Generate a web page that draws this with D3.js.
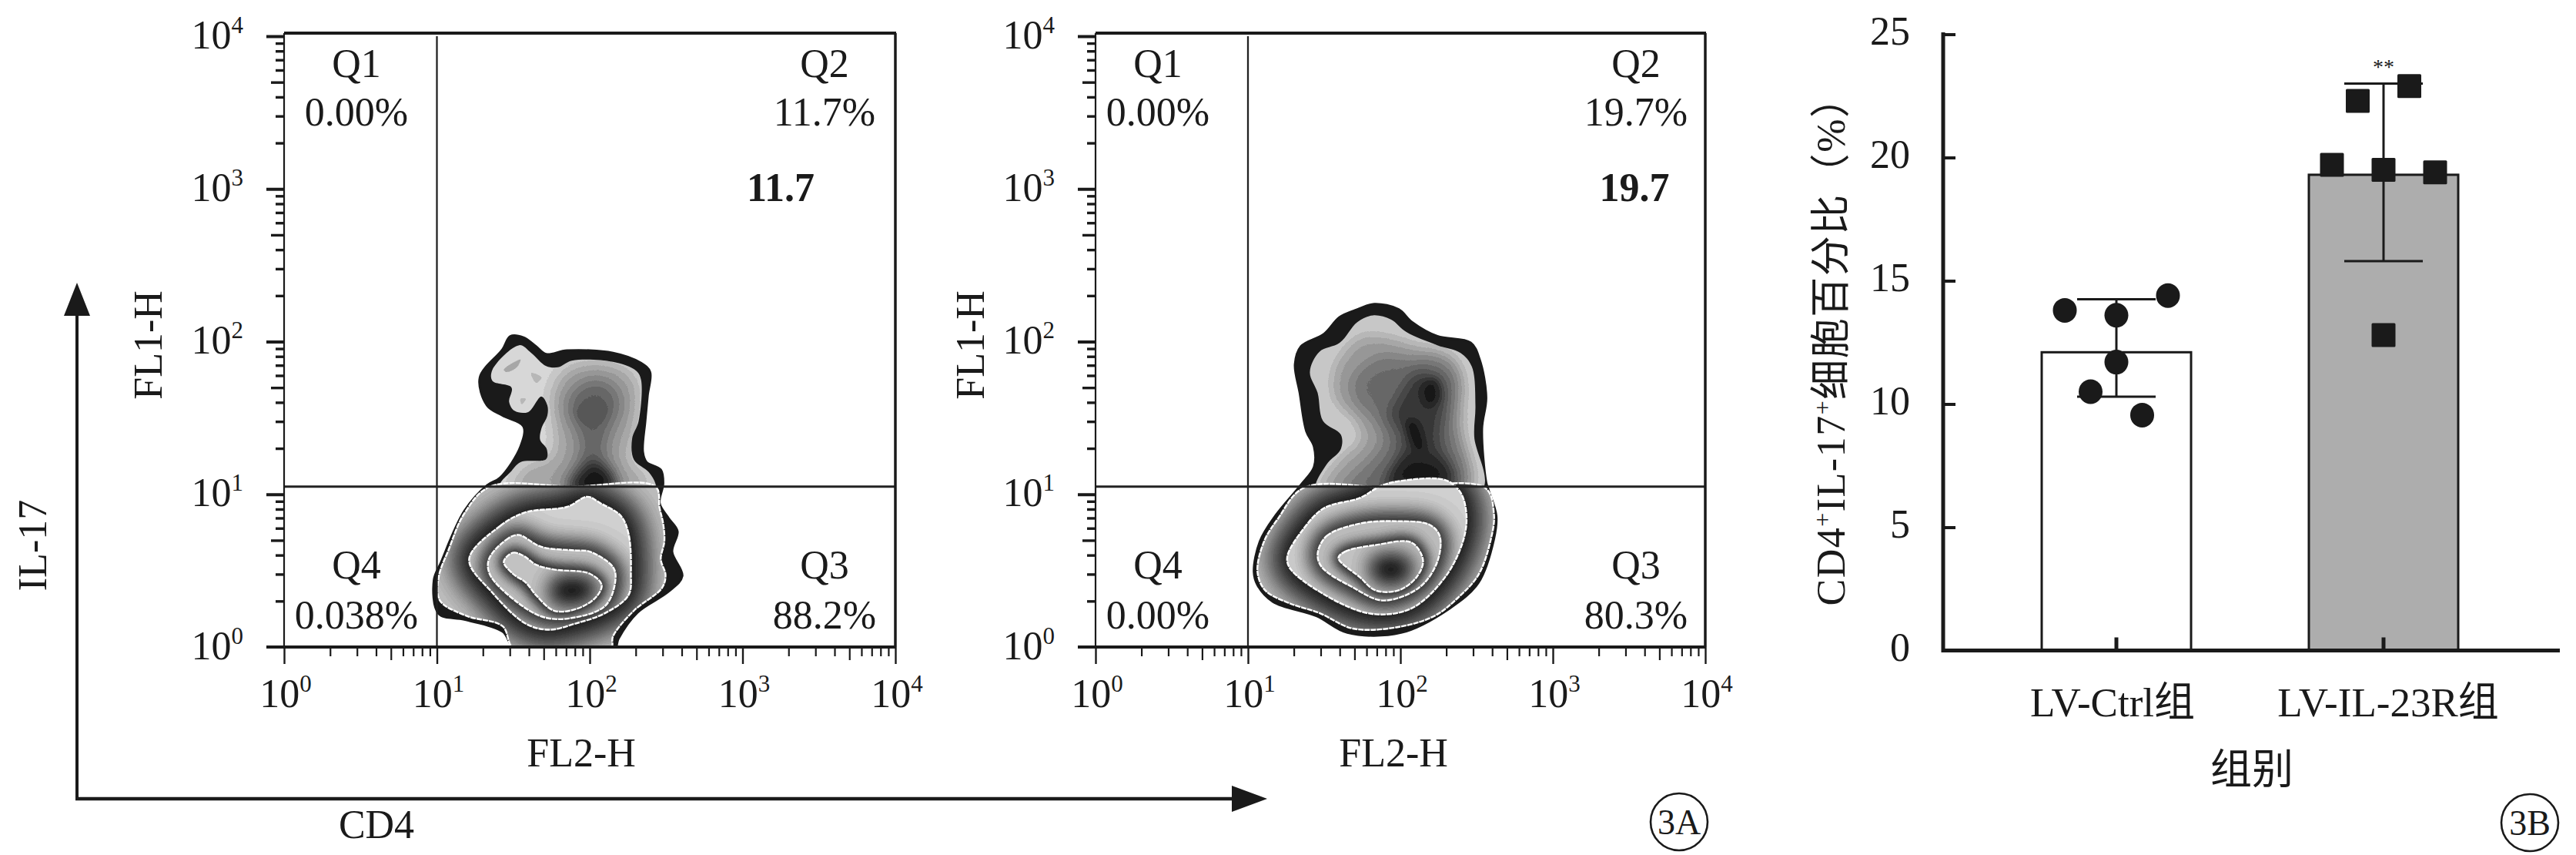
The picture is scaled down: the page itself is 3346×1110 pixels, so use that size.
<!DOCTYPE html>
<html><head><meta charset="utf-8">
<script src="https://cdn.jsdelivr.net/npm/d3@7"></script>
<style>
html,body{margin:0;padding:0;background:#fff}
text{font-family:"Liberation Serif","Noto Sans CJK SC",serif;fill:#1a1a1a;font-size:52px}
</style></head><body>
<svg id="c" width="3346" height="1110"></svg>
<script>
// ---- Flow cytometry contour outlines, in FCS channels (256 channels per log decade) ----
const aOuter=[[379,521],[401,519],[422,504],[439,491],[474,497],[551,493],[598,476],[613,461],[609,422],[605,379],[601,327],[607,310],[631,297],[635,274],[629,241],[644,216],[659,194],[650,160],[667,119],[644,93],[592,58],[560,14],[553,-4],[388,-4],[366,26],[302,46],[259,56],[251,112],[263,142],[302,228],[340,271],[362,284],[396,336],[401,370],[366,388],[340,405],[328,452],[366,499]];
const aUpper=[[394,506],[414,493],[439,471],[459,469],[482,480],[551,478],[590,463],[598,448],[594,379],[583,349],[586,314],[611,293],[622,274],[622,263],[362,263],[362,274],[379,293],[396,310],[439,315],[440,332],[429,347],[431,366],[441,388],[441,405],[431,420],[409,394],[386,396],[377,411],[381,435],[349,446],[349,465]];
const aLower=[[345,269],[482,269],[622,269],[629,233],[635,207],[637,177],[631,147],[639,121],[633,99],[586,61],[551,18],[547,-4],[386,-4],[366,35],[306,52],[261,78],[259,117],[276,164],[302,224]];
const aC1=[[310,147],[362,203],[405,226],[474,235],[508,252],[530,241],[564,220],[577,190],[581,125],[577,87],[538,57],[487,39],[444,29],[405,39],[349,91]];
const aC2=[[343,147],[371,179],[392,188],[431,168],[487,162],[512,160],[551,134],[555,112],[538,69],[478,48],[435,50],[392,74],[345,121]];
const aC3=[[368,143],[383,158],[401,153],[422,138],[452,130],[512,123],[532,104],[521,82],[487,63],[452,61],[422,87],[405,108],[383,123]];
const aPeak=[[452,108],[487,115],[517,106],[517,87],[482,74],[452,80]];
const aUp1=[[461,456],[487,474],[555,474],[590,448],[586,353],[577,314],[607,284],[607,263],[383,263],[405,302],[448,319],[454,353],[448,422]];
const aUp2=[[478,422],[512,448],[551,439],[564,405],[542,353],[538,319],[555,263],[469,263],[495,319],[495,353],[474,392]];
const aUp3=[[491,396],[517,409],[540,400],[530,379],[512,373],[495,383]];
const aUp4=[[517,310],[547,289],[555,263],[478,263],[495,289]];
const aSpot1=[[368,465],[396,482],[390,469],[373,461]];
const aSpot2=[[414,459],[431,452],[422,443]];
const aSpot3=[[396,416],[405,416],[398,407]];

const bOuter=[[468,575],[509,566],[531,545],[574,521],[630,510],[645,482],[656,418],[649,366],[656,276],[660,263],[673,220],[669,181],[643,108],[595,65],[513,24],[423,24],[371,52],[298,76],[272,104],[266,126],[276,177],[302,220],[345,272],[367,302],[367,336],[354,362],[343,426],[335,474],[345,504],[384,525],[410,553],[440,566]];
const bUpper=[[466,556],[496,549],[522,528],[574,506],[613,493],[632,470],[638,405],[636,353],[649,263],[371,263],[388,306],[412,332],[412,356],[382,379],[373,426],[360,461],[376,495],[410,510],[440,545]];
const bLower=[[350,267],[496,267],[654,267],[669,224],[664,181],[643,121],[608,82],[569,52],[505,33],[432,31],[376,57],[324,74],[285,95],[272,126],[283,177],[307,216]];
const bC1=[[322,151],[350,199],[384,233],[444,250],[479,270],[509,278],[587,280],[613,259],[623,220],[617,177],[587,117],[531,65],[470,55],[410,74],[328,130]];
const bC2=[[373,156],[388,186],[444,207],[505,211],[561,205],[578,186],[574,143],[544,100],[483,78],[432,100],[380,134]];
const bC3=[[408,149],[419,160],[470,171],[531,175],[550,145],[539,117],[509,95],[470,95],[444,117]];
const bPeak=[[466,143],[496,151],[526,143],[522,117],[492,108],[470,117]];
const bUp1=[[401,470],[445,521],[488,521],[531,508],[600,487],[617,448],[617,362],[630,263],[380,263],[419,323],[445,345],[436,379],[401,414]];
const bUp2=[[432,448],[479,487],[526,482],[574,482],[604,457],[600,379],[617,263],[414,263],[453,306],[483,345],[470,379],[436,414]];
const bUp3=[[505,414],[539,461],[582,448],[587,414],[578,345],[600,263],[479,263],[509,310],[513,358],[492,388]];
const bUp4=[[548,439],[570,448],[578,418],[561,401],[548,414]];
const bUp5=[[522,379],[539,379],[552,328],[539,328]];
const bUp6=[[522,319],[582,310],[595,276],[496,276]];

// ---- Quadrant labels ----
const quadrantNames=["Q1","Q2","Q4","Q3"];
const panelAPercents=["0.00%","11.7%","0.038%","88.2%"];
const panelBPercents=["0.00%","19.7%","0.00%","80.3%"];
const panelABold="11.7", panelBBold="19.7";
const decades=[0,1,2,3,4];

// ---- Bar chart ----
const groups=["LV-Ctrl组","LV-IL-23R组"];
const means=[12.1,19.3];
const errLow=[10.3,15.8];
const errHigh=[14.25,23.0];
const ctrlValues=[13.8,11.7,13.6,14.4,10.5,9.55];
const ctrlSlots=[-2,0,0,2,-1,1];
const il23Values=[19.7,22.3,19.5,12.8,22.9,19.4];
const il23Slots=[-2,-1,0,0,1,2];
const yTicks=[0,5,10,15,20,25];

const svg=d3.select("#c");
const defs=svg.append("defs");
const ink="#1a1a1a";

function posterize(id,n){
  const f=defs.append("filter").attr("id",id).attr("filterUnits","userSpaceOnUse")
    .attr("x",0).attr("y",0).attr("width",3346).attr("height",1110)
    .attr("color-interpolation-filters","sRGB");
  const t=f.append("feComponentTransfer");
  const tv=d3.range(n).map(k=>((k+.5)/n).toFixed(3)).join(" ");
  ["feFuncR","feFuncG","feFuncB"].forEach(c=>t.append(c).attr("type","discrete").attr("tableValues",tv));
}
posterize("fine",36); posterize("coarse",16);
function blurF(s){
  const id="blur"+s;
  if(defs.select("#"+id).empty()){
    defs.append("filter").attr("id",id).attr("filterUnits","userSpaceOnUse")
      .attr("x",0).attr("y",0).attr("width",3346).attr("height",1110)
      .attr("color-interpolation-filters","sRGB")
      .append("feGaussianBlur").attr("stdDeviation",s);
  }
  return "url(#"+id+")";
}
let uid=0;

function panel(o){
  const x=d3.scaleLog().domain([1,1e4]).range(o.xr);
  const y=d3.scaleLog().domain([1,1e4]).range(o.yr);
  const ch=c=>Math.pow(10,c/256);
  const line=d3.line().x(d=>x(ch(d[0]))).y(d=>y(ch(d[1]))).curve(d3.curveCatmullRomClosed.alpha(.5));
  const g=svg.append("g");
  const [x0,x1]=o.xr,[y0,y1]=o.yr;
  const pid="plot"+(uid++);
  defs.append("clipPath").attr("id",pid).append("rect").attr("x",x0).attr("y",y1).attr("width",x1-x0).attr("height",y0-y1);
  const plot=g.append("g").attr("clip-path",`url(#${pid})`);
  plot.append("path").attr("d",line(o.outer)).attr("fill",ink).attr("stroke",ink).attr("stroke-width",3);

  function region(parent,poly,base,layers,filter,white){
    const id="r"+(uid++);
    defs.append("clipPath").attr("id",id).append("path").attr("d",line(poly));
    const r=parent.append("g").attr("clip-path",`url(#${id})`);
    const p=r.append("g").attr("filter",`url(#${filter})`);
    p.append("rect").attr("x",x0).attr("y",y1).attr("width",x1-x0).attr("height",y0-y1).attr("fill",base);
    layers.forEach(l=>p.append("path").attr("d",line(l.pts)).attr("fill",l.tone).attr("stroke",l.tone)
      .attr("stroke-width",l.grow||0).attr("filter",l.blur?blurF(l.blur):null));
    if(white) parent.append("path").attr("d",line(poly)).attr("fill","none").attr("stroke","#fff").attr("stroke-width",white).attr("stroke-dasharray","7 1");
    return r;
  }
  region(plot,o.upper,o.upperBase,o.upperLayers,"coarse",0);
  region(plot,o.lower,"#c2c2c2",[{pts:o.c1,tone:"#0c0c0c",blur:18,grow:44}],"fine",2.4);
  region(plot,o.c1,"#cfcfcf",[{pts:o.c2,tone:"#111",blur:13,grow:22}],"fine",2.4);
  region(plot,o.c2,"#bdbdbd",[{pts:o.c3,tone:"#111",blur:8,grow:14}],"fine",2.4);
  region(plot,o.c3,"#c4c4c4",[{pts:o.peak,tone:"#0c0c0c",blur:13,grow:10}],"fine",2.4);

  // gates
  const gate=plot.append("g").attr("stroke","#222");
  gate.append("line").attr("x1",x(10)).attr("x2",x(10)).attr("y1",y1).attr("y2",y0).attr("stroke-width",2.3);
  gate.append("line").attr("x1",x0).attr("x2",x1).attr("y1",y(o.gateY)).attr("y2",y(o.gateY)).attr("stroke-width",3);

  // frame
  const fr=g.append("g").attr("stroke",ink).attr("fill","none");
  fr.append("line").attr("x1",x0).attr("x2",x1+1).attr("y1",y1-4).attr("y2",y1-4).attr("stroke-width",4);
  fr.append("line").attr("x1",x0).attr("x2",x0).attr("y1",y1-4).attr("y2",y0).attr("stroke-width",2.2);
  fr.append("line").attr("x1",x1).attr("x2",x1).attr("y1",y1-4).attr("y2",y0).attr("stroke-width",3.5);
  fr.append("line").attr("x1",x0-23).attr("x2",x1+1).attr("y1",y0).attr("y2",y0).attr("stroke-width",4);

  // axes: three tick tiers drawn through d3 axes
  const majors=decades.map(d=>Math.pow(10,d));
  const fives=decades.slice(0,4).map(d=>5*Math.pow(10,d));
  const minors=decades.slice(0,4).flatMap(d=>[2,3,4,6,7,8,9].map(m=>m*Math.pow(10,d)));
  const ticks=(axisFn,scale,vals,len,sw,tr)=>{
    const a=g.append("g").attr("transform",tr).call(axisFn(scale).tickValues(vals).tickSize(len).tickFormat(""));
    a.select(".domain").remove();
    a.selectAll("line").attr("stroke",ink).attr("stroke-width",sw);
  };
  ticks(d3.axisBottom,x,majors,22,2.4,`translate(0,${y0})`);
  ticks(d3.axisBottom,x,fives,17,2.2,`translate(0,${y0})`);
  ticks(d3.axisBottom,x,minors,12,2.2,`translate(0,${y0})`);
  ticks(d3.axisLeft,y,majors.slice(1),23,4,`translate(${x0},0)`);
  ticks(d3.axisLeft,y,fives,17,3.4,`translate(${x0},0)`);
  ticks(d3.axisLeft,y,minors,11,3.4,`translate(${x0},0)`);

  const pow=(d,px,py,anchor)=>{
    const t=g.append("text").attr("x",px).attr("y",py).attr("text-anchor",anchor);
    t.append("tspan").text("10");
    t.append("tspan").attr("dy",-20).style("font-size","31px").text(d);
  };
  decades.forEach(d=>{
    pow(d,x(Math.pow(10,d))+2,918,"middle");
    pow(d,x0-53,y(Math.pow(10,d))+15.5,"end");
  });
  const tx=(s,px,py,w)=>g.append("text").attr("x",px).attr("y",py).attr("text-anchor","middle").attr("font-weight",w||null).text(s);
  quadrantNames.forEach((q,i)=>{
    const lx=o.qx[i%2], ty=i<2?[100,163]:[751,816];
    tx(q,lx,ty[0]); tx(o.pct[i],lx,ty[1]);
  });
  tx(o.bold,o.boldX,261,"bold");
  tx("FL2-H",o.xLabel,995);
  g.append("text").attr("transform",`translate(${o.yLabel},448) rotate(-90)`).attr("text-anchor","middle").text("FL1-H");
}

panel({xr:[369,1163],yr:[840,47],gateY:Math.pow(10,1.05),outer:aOuter,upper:aUpper,lower:aLower,c1:aC1,c2:aC2,c3:aC3,peak:aPeak,
  upperBase:"#d6d6d6",
  upperLayers:[{pts:aUp1,tone:"#a2a2a2",blur:10,grow:0},{pts:aUp2,tone:"#5c5c5c",blur:12,grow:0},{pts:aUp3,tone:"#505050",blur:4,grow:0},{pts:aUp4,tone:"#141414",blur:9,grow:0},{pts:aSpot1,tone:"#a8a8a8",blur:0},{pts:aSpot2,tone:"#b0b0b0",blur:0},{pts:aSpot3,tone:"#b8b8b8",blur:0}],
  qx:[463,1071],pct:panelAPercents,bold:panelABold,boldX:1014,xLabel:755,yLabel:210});
panel({xr:[1423,2215],yr:[840,47],gateY:Math.pow(10,1.05),outer:bOuter,upper:bUpper,lower:bLower,c1:bC1,c2:bC2,c3:bC3,peak:bPeak,
  upperBase:"#cfcfcf",
  upperLayers:[{pts:bUp1,tone:"#9c9c9c",blur:9,grow:0},{pts:bUp2,tone:"#6e6e6e",blur:10,grow:0},{pts:bUp3,tone:"#363636",blur:10,grow:0},{pts:bUp4,tone:"#1c1c1c",blur:5,grow:0},{pts:bUp5,tone:"#181818",blur:5,grow:0},{pts:bUp6,tone:"#1c1c1c",blur:9,grow:0}],
  qx:[1504,2125],pct:panelBPercents,bold:panelBBold,boldX:2123,xLabel:1810,yLabel:1278});

// big CD4 / IL-17 arrows
const arrows=svg.append("g");
arrows.append("path").attr("d","M100,1037V400").attr("stroke",ink).attr("stroke-width",4).attr("fill","none");
arrows.append("path").attr("d","M98,1037H1610").attr("stroke",ink).attr("stroke-width",4.5).attr("fill","none");
arrows.append("path").attr("d","M100,367L83,410L117,410Z").attr("fill",ink);
arrows.append("path").attr("d","M1646,1037L1600,1020L1600,1054Z").attr("fill",ink);
arrows.append("text").attr("x",489).attr("y",1088).attr("text-anchor","middle").text("CD4");
arrows.append("text").attr("transform","translate(60,708) rotate(-90)").attr("text-anchor","middle").text("IL-17");

function badge(cx,cy,s){
  svg.append("circle").attr("cx",cx).attr("cy",cy).attr("r",37).attr("fill","none").attr("stroke",ink).attr("stroke-width",2.6);
  svg.append("text").attr("x",cx).attr("y",cy+16).attr("text-anchor","middle").style("font-size","46px").text(s);
}
badge(2181,1067,"3A");badge(3286,1068,"3B");

// ---- Bar chart ----
const by=d3.scaleLinear().domain([0,25]).range([844.5,44.5]);
const slot=d3.scaleLinear().domain([-2,2]).range([-67,67]);
const bar=svg.append("g");
const barX=d3.scalePoint().domain(groups).range([2749,3096]);
groups.forEach((name,i)=>{
  const bw=194, cx=barX(name);
  bar.append("rect").attr("x",cx-bw/2).attr("y",by(means[i])).attr("width",bw).attr("height",by(0)-by(means[i]))
    .attr("fill",i?"#adadad":"#fff").attr("stroke",ink).attr("stroke-width",3);
  const eb=bar.append("g").attr("stroke",ink).attr("stroke-width",3);
  eb.append("line").attr("x1",cx).attr("x2",cx).attr("y1",by(errLow[i])).attr("y2",by(errHigh[i]));
  [errLow[i],errHigh[i]].forEach(v=>eb.append("line").attr("x1",cx-51).attr("x2",cx+51).attr("y1",by(v)).attr("y2",by(v)));
  const vals=i?il23Values:ctrlValues, sl=i?il23Slots:ctrlSlots;
  vals.forEach((v,k)=>{
    if(i) bar.append("rect").attr("x",cx+slot(sl[k])-15.5).attr("y",by(v)-15.5).attr("width",31).attr("height",31).attr("rx",1.5).attr("fill",ink);
    else bar.append("ellipse").attr("cx",cx+slot(sl[k])).attr("cy",by(v)).attr("rx",15.5).attr("ry",16).attr("fill",ink);
  });
});
const ya=svg.append("g").attr("transform","translate(2524,0)").call(d3.axisRight(by).tickValues(yTicks).tickSize(16).tickFormat(""));
ya.select(".domain").attr("stroke",ink).attr("stroke-width",5).attr("d","M0,42V847");
ya.selectAll("line").attr("stroke",ink).attr("stroke-width",4);
yTicks.forEach(t=>svg.append("text").attr("x",2481).attr("y",by(t)+13).attr("text-anchor","end").text(t));
svg.append("line").attr("x1",2522).attr("x2",3325).attr("y1",by(0)).attr("y2",by(0)).attr("stroke",ink).attr("stroke-width",5);
barX.domain().forEach(n=>svg.append("line").attr("x1",barX(n)).attr("x2",barX(n)).attr("y1",by(0)).attr("y2",by(0)-17).attr("stroke",ink).attr("stroke-width",5));
svg.append("text").attr("x",2744).attr("y",930).attr("text-anchor","middle").style("font-size","53px").text(groups[0]);
svg.append("text").attr("x",3102).attr("y",930).attr("text-anchor","middle").style("font-size","53px").text(groups[1]);
svg.append("text").attr("x",2925).attr("y",1018).attr("text-anchor","middle").style("font-size","54px").text("组别");
svg.append("text").attr("x",3096).attr("y",96).attr("text-anchor","middle").style("font-size","28px").text("**");
const yt=svg.append("text").attr("transform","translate(2396,443) rotate(-90)").attr("text-anchor","middle").style("font-size","52px").style("letter-spacing","1.5px");
yt.append("tspan").text("CD4");
yt.append("tspan").attr("dy",-18).style("font-size","32px").text("+");
yt.append("tspan").attr("dy",18).text("IL-17");
yt.append("tspan").attr("dy",-18).style("font-size","32px").text("+");
yt.append("tspan").attr("dy",18).text("细胞百分比（%）");
</script></body></html>
